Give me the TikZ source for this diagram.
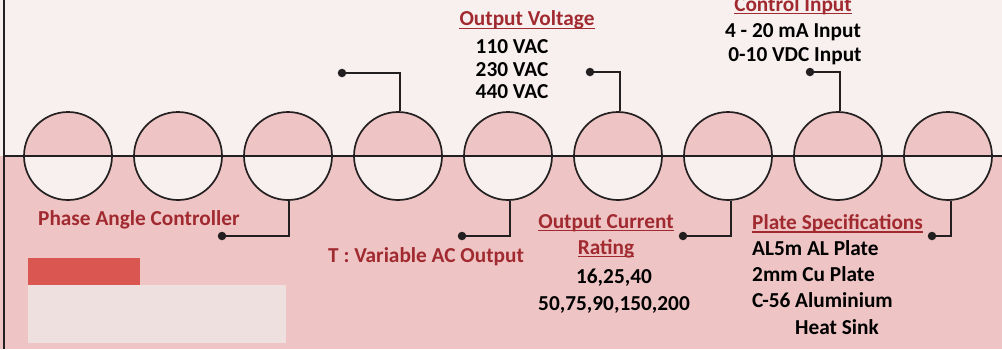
\documentclass[tikz,border=0pt]{standalone}
\usepackage{fontspec}
\setmainfont{Carlito}
\definecolor{topbg}{HTML}{F8F0EF}
\definecolor{botbg}{HTML}{EEC5C4}
\definecolor{lbl}{HTML}{A12A30}
\definecolor{ink}{HTML}{231F20}
\definecolor{redbar}{HTML}{D95651}
\definecolor{palebox}{HTML}{EEE0DF}
\tikzset{
  port/.style={circle, draw=ink, line width=1.7pt, minimum size=88pt, inner sep=0pt, fill=topbg,
    path picture={\fill[botbg] (path picture bounding box.north west) rectangle (path picture bounding box.east);}},
  dot/.style={circle, fill=ink, minimum size=8.5pt, inner sep=0pt},
  wire/.style={draw=ink, line width=1.7pt},
  redtxt/.style={text=lbl, font=\bfseries\fontsize{21.3}{23}\selectfont, inner sep=0pt},
  blktxt/.style={text=black, font=\bfseries\fontsize{21.3}{23}\selectfont, inner sep=0pt},
  uline/.style={draw=lbl, line width=1.2pt}
}
\begin{document}
\begin{tikzpicture}[x=1pt,y=-1pt]
\fill[topbg] (0,0) rectangle (1002,156);
\fill[botbg] (0,156) rectangle (1002,349);
\useasboundingbox (0,0) rectangle (1002,349);
\fill[redbar] (28,258) rectangle (140,285);
\fill[palebox] (28,285) rectangle (286,343);
% ports
\foreach \i/\x in {1/68,2/178,3/288,4/398,5/508,6/618,7/728,8/838,9/948}
  \node[port] (c\i) at (\x,156) {};
\draw[wire] (4,0) -- (4,349);
\draw[wire] (4,156) -- (1002,156);
% dots
\node[dot] (d3) at (222,236) {};
\node[dot] (d4) at (342,73) {};
\node[dot] (d5) at (462,236) {};
\node[dot] (d6) at (590,72) {};
\node[dot] (d7) at (683,236) {};
\node[dot] (d8) at (810,72) {};
\node[dot] (d9) at (932,236) {};
% connectors
\draw[wire] ([xshift=1pt]c3.south) |- (d3.center);
\draw[wire] ([xshift=2pt]c4.north) |- (d4.center);
\draw[wire] ([xshift=2pt]c5.south) |- (d5.center);
\draw[wire] ([xshift=2pt]c6.north) |- (d6.center);
\draw[wire] ([xshift=3pt]c7.south) |- (d7.center);
\draw[wire] ([xshift=2pt]c8.north) |- (d8.center);
\draw[wire] ([xshift=3pt]c9.south) |- (d9.center);
% labels
\node[redtxt, anchor=base west] (pac) at (38,225.7) {Phase Angle Controller};
\node[redtxt, anchor=base west] (tvar) at (328,262.3) {T : Variable AC Output};
\node[redtxt, anchor=base] (ov) at (527,25.5) {Output Voltage};
\draw[uline] ([yshift=-3pt]ov.base west) -- ([yshift=-3pt]ov.base east);
\node[blktxt, anchor=base] (v1) at (512,53) {110 VAC};
\node[blktxt, anchor=base] (v2) at (512,76) {230 VAC};
\node[blktxt, anchor=base] (v3) at (512,98.5) {440 VAC};
\node[redtxt, anchor=base] (ci) at (793,11) {Control Input};
\draw[uline] ([yshift=-2.5pt]ci.base west) -- ([yshift=-2.5pt]ci.base east);
\node[blktxt, anchor=base] (i1) at (793,37.5) {4 - 20 mA Input};
\node[blktxt, anchor=base] (i2) at (795,61.5) {0-10 VDC Input};
\node[redtxt, anchor=base] (oc) at (606,228.3) {Output Current};
\draw[uline] ([yshift=-2.5pt]oc.base west) -- ([yshift=-2.5pt]oc.base east);
\node[redtxt, anchor=base] (rt) at (606,254) {Rating};
\draw[uline] ([yshift=-2.5pt]rt.base west) -- ([yshift=-2.5pt]rt.base east);
\node[blktxt, anchor=base] (r1) at (614,283.3) {16,25,40};
\node[blktxt, anchor=base] (r2) at (614,310) {50,75,90,150,200};
\node[redtxt, anchor=base west] (ps) at (752,229) {Plate Specifications};
\draw[uline] ([yshift=-3pt]ps.base west) -- ([yshift=-3pt]ps.base east);
\node[blktxt, anchor=base west] (p1) at (752,255) {AL5m AL Plate};
\node[blktxt, anchor=base west] (p2) at (752,281.7) {2mm Cu Plate};
\node[blktxt, anchor=base west] (p3) at (752,307.7) {C-56 Aluminium};
\node[blktxt, anchor=base west] (p4) at (795,334) {Heat Sink};
\end{tikzpicture}
\end{document}
